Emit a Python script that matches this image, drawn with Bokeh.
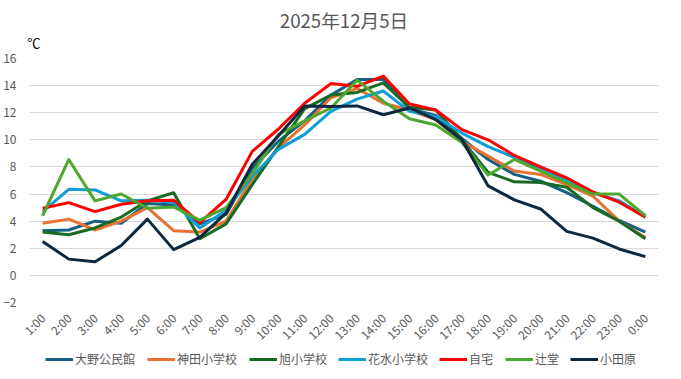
from bokeh.plotting import figure
from bokeh.models import Legend, LegendItem, FixedTicker, Range1d, Title
from bokeh.layouts import column
from bokeh.embed import file_html
from bokeh.resources import INLINE
import math

hours = ["1:00", "2:00", "3:00", "4:00", "5:00", "6:00", "7:00", "8:00", "9:00", "10:00",
         "11:00", "12:00", "13:00", "14:00", "15:00", "16:00", "17:00", "18:00", "19:00",
         "20:00", "21:00", "22:00", "23:00", "0:00"]

ono = [3.3, 3.35, 4.0, 3.85, 5.3, 5.2, 3.8, 4.5, 7.9, 9.9, 11.4, 13.3, 14.45, 14.45, 12.3,
       11.8, 10.1, 8.55, 7.45, 6.95, 6.1, 5.1, 4.05, 3.2]
kanda = [3.85, 4.15, 3.35, 4.0, 5.0, 3.3, 3.2, 4.0, 7.1, 9.4, 11.1, 13.1, 13.8, 12.7, 12.2,
         11.5, 9.9, 8.8, 7.7, 7.45, 6.7, 5.85, 4.0, 2.8]
asahi = [3.2, 3.0, 3.5, 4.3, 5.5, 6.1, 2.7, 3.8, 6.7, 9.5, 12.3, 13.3, 13.5, 14.2, 12.4,
         12.2, 10.0, 7.6, 6.9, 6.85, 6.5, 5.0, 4.0, 2.7]
hanamizu = [4.7, 6.35, 6.3, 5.5, 5.55, 5.4, 3.5, 4.8, 7.3, 9.3, 10.4, 12.1, 13.0, 13.6, 12.1,
            11.7, 10.5, 9.5, 8.7, 7.9, 7.05, 6.1, 5.5, 4.3]
jitaku = [4.95, 5.37, 4.7, 5.25, 5.5, 5.55, 3.9, 5.6, 9.15, 10.8, 12.7, 14.15, 13.95, 14.7,
          12.65, 12.2, 10.75, 10.0, 8.85, 8.0, 7.2, 6.15, 5.4, 4.3]
tsujido = [4.4, 8.55, 5.5, 6.0, 4.95, 5.05, 4.07, 5.0, 7.5, 10.4, 11.4, 12.35, 14.4, 12.85,
           11.55, 11.1, 9.8, 7.4, 8.55, 7.7, 6.85, 6.0, 6.0, 4.4]
odawara = [2.5, 1.2, 1.0, 2.2, 4.15, 1.9, 2.8, 4.6, 8.2, 10.3, 12.5, 12.45, 12.5, 11.85,
           12.35, 11.5, 10.0, 6.6, 5.57, 4.9, 3.25, 2.75, 1.95, 1.38]

names = ["大野公民館", "神田小学校", "旭小学校", "花水小学校", "自宅", "辻堂", "小田原"]
series = [ono, kanda, asahi, hanamizu, jitaku, tsujido, odawara]
colors = ["#156082", "#E97132", "#196B24", "#0F9ED5", "#FF0000", "#4EA72E", "#0E2841"]

y_ticks = [-2, 0, 2, 4, 6, 8, 10, 12, 14, 16]

FONT = "Noto Sans CJK JP"
GRAY = "#595959"

xs = list(range(len(hours)))

p = figure(width=665, height=348, output_backend="svg", toolbar_location=None,
           x_range=Range1d(-0.5, len(hours) - 0.5), y_range=Range1d(-2, 16),
           min_border_left=26, min_border_right=7, min_border_top=10, min_border_bottom=58)
p.margin = (12, 0, 0, 0)

p.title = Title(text="2025年12月5日", align="center", text_font_size="14pt",
                text_color=GRAY, text_font_style="normal", text_font=FONT, standoff=-18)
p.add_layout(Title(text="℃", align="left", offset=-2, text_font_size="13px",
                   text_color="black", text_font_style="normal", text_font=FONT,
                   standoff=14), "above")

p.outline_line_color = None
p.xgrid.grid_line_color = None
p.ygrid.grid_line_color = "#D9D9D9"
p.ygrid.grid_line_width = 1

p.yaxis.ticker = FixedTicker(ticks=y_ticks)
p.xaxis.ticker = FixedTicker(ticks=xs)
p.xaxis.major_label_overrides = {i: h for i, h in enumerate(hours)}
p.xaxis.major_label_orientation = math.pi / 4

for ax in (p.xaxis[0], p.yaxis[0]):
    ax.axis_line_color = None
    ax.major_tick_line_color = None
    ax.minor_tick_line_color = None
    ax.major_tick_out = 0
    ax.major_tick_in = 0
    ax.minor_tick_out = 0
    ax.major_label_text_color = GRAY
    ax.major_label_text_font_size = "12px"
    ax.major_label_text_font = FONT
p.yaxis.major_label_standoff = 13
p.xaxis.major_label_standoff = 13

for s, c in zip(series, colors):
    p.line(xs, s, line_color=c, line_width=3, line_join="round")

# legend strip below the chart (legend glyphs only; proxy lines are out of view)
q = figure(width=665, height=22, output_backend="svg", toolbar_location=None,
           x_axis_type=None, y_axis_type=None,
           x_range=Range1d(0, 1), y_range=Range1d(100, 101),
           min_border_left=0, min_border_right=0, min_border_top=0, min_border_bottom=0)
q.outline_line_color = None
q.grid.grid_line_color = None
q.border_fill_alpha = 0
q.background_fill_alpha = 0
q.margin = (-14, 0, 0, 0)

legend_x = [16, 118, 220, 309, 410, 476, 541]
for name, s, c, lx in zip(names, series, colors, legend_x):
    r = q.line(xs, s, line_color=c, line_width=3)
    lg = Legend(items=[LegendItem(label=name, renderers=[r])], location=(lx, 1),
                glyph_width=28, glyph_height=14, label_standoff=2,
                label_text_font_size="12px", label_text_color=GRAY, label_text_font=FONT,
                label_height=14, padding=2, margin=0, border_line_color=None,
                background_fill_alpha=0)
    q.add_layout(lg)

open("out.html", "w").write(file_html(column(p, q, spacing=0), INLINE))
